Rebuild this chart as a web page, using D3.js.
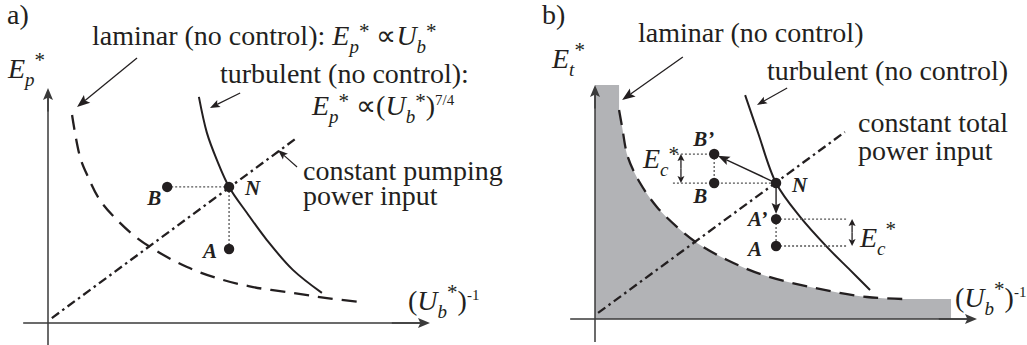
<!doctype html>
<html>
<head>
<meta charset="utf-8">
<title>pumping power schematic</title>
<style>
  body { margin: 0; background: #fff; }
  svg { display: block; }
  text { font-family: "Liberation Serif", "Times New Roman", serif; fill: #231f20; white-space: pre; }
</style>
</head>
<body>
<svg id="chart" width="1027" height="345"></svg>
<script src="https://d3js.org/d3.v7.min.js"></script>
<script>
// both panels use x = (Ub*)^-1 and y = energy, in arbitrary units 0..10

// panel a
var laminarA = [[0.63, 8.85], [0.84, 7.06], [1.05, 6.21], [1.36, 5.23], [1.81, 4.38], [2.33, 3.62],
                [2.93, 2.98], [3.64, 2.38], [4.42, 1.91], [5.37, 1.53], [6.41, 1.28], [7.30, 1.06], [8.22, 0.89]];
var turbulentA = [[3.95, 9.62], [4.16, 8.09], [4.42, 6.94], [4.74, 5.79], [5.21, 4.68],
                  [5.73, 3.53], [6.41, 2.26], [7.17, 1.28]];
var constPowerA = [[0.10, 0.21], [6.54, 7.91]];
var pointsA = [
  {name: "N", x: 4.74, y: 5.79},
  {name: "B", x: 3.12, y: 5.79},
  {name: "A", x: 4.74, y: 3.15}
];

// panel b
var laminarB = [[0.63, 8.93], [0.71, 8.21], [0.86, 6.92], [1.18, 5.81], [1.62, 4.79], [2.15, 3.93],
                [2.67, 3.25], [3.46, 2.52], [4.40, 1.88], [5.63, 1.37], [7.12, 0.94], [8.19, 0.85]];
var turbulentB = [[3.93, 9.57], [4.27, 7.95], [4.74, 5.81], [5.37, 4.36],
                  [6.07, 3.08], [6.68, 2.09], [7.20, 1.24]];
var constPowerB = [[0.08, 0.26], [6.54, 7.99]];
var pointsB = [
  {name: "N", x: 4.74, y: 5.81},
  {name: "B", x: 3.12, y: 5.81},
  {name: "B\u2019", x: 3.12, y: 7.05},
  {name: "A\u2019", x: 4.74, y: 4.27},
  {name: "A", x: 4.74, y: 3.12}
];
var shadeTop = 10, shadeRight = 9.32;

var ink = "#231f20";
var svg = d3.select("#chart");

var xA = d3.scaleLinear().domain([0, 10]).range([48, 430]);
var yA = d3.scaleLinear().domain([0, 10]).range([323, 88]);
var xB = d3.scaleLinear().domain([0, 10]).range([595, 977]);
var yB = d3.scaleLinear().domain([0, 10]).range([319, 85]);

function curve(x, y) {
  return d3.line().x(function(d) { return x(d[0]); }).y(function(d) { return y(d[1]); })
           .curve(d3.curveCatmullRom.alpha(0.5));
}

function straight(x, y) {
  return d3.line().x(function(d) { return x(d[0]); }).y(function(d) { return y(d[1]); });
}

// arrow with filled, slightly notched head
function arrow(g, x1, y1, x2, y2, o) {
  var dx = x2 - x1, dy = y2 - y1, L = Math.hypot(dx, dy), ux = dx / L, uy = dy / L;
  var tx = x2 - ux * (o.gap || 0), ty = y2 - uy * (o.gap || 0);
  var bx = tx - ux * o.len, by = ty - uy * o.len;
  var nx = bx + ux * o.len * 0.2, ny = by + uy * o.len * 0.2;
  g.append("line").attr("x1", x1).attr("y1", y1).attr("x2", nx).attr("y2", ny)
    .attr("stroke", o.color || ink).attr("stroke-width", o.w);
  g.append("path")
    .attr("d", "M" + tx + "," + ty + "L" + (bx - uy * o.half) + "," + (by + ux * o.half) +
               "L" + nx + "," + ny + "L" + (bx + uy * o.half) + "," + (by - ux * o.half) + "Z")
    .attr("fill", o.color || ink);
}

function doubleArrow(g, x, y1, y2) {
  var m = (y1 + y2) / 2;
  arrow(g, x, m, x, y1, {w: 1.3, len: 7, half: 3.5});
  arrow(g, x, m, x, y2, {w: 1.3, len: 7, half: 3.5});
}

var kinds = {
  r:    {size: 28, style: "normal", weight: "normal", shift: 0},
  i:    {size: 28, style: "italic", weight: "normal", shift: 0},
  sub:  {size: 19, style: "italic", weight: "normal", shift: 8},
  ast:  {size: 21, style: "normal", weight: "normal", shift: -7},
  astHi:{size: 21, style: "normal", weight: "normal", shift: -11},
  sup:  {size: 15, style: "normal", weight: "normal", shift: -10},
  bi:   {size: 21, style: "italic", weight: "bold", shift: 0}
};

function label(g, x, y, parts) {
  var t = g.append("text").attr("x", x).attr("y", y);
  var cur = 0;
  parts.forEach(function(p) {
    var k = kinds[p[1] || "r"];
    t.append("tspan")
      .attr("dy", k.shift - cur)
      .style("font-size", k.size + "px")
      .style("font-style", k.style)
      .style("font-weight", k.weight)
      .text(p[0]);
    cur = k.shift;
  });
  return t;
}

function axes(g, x, y, xLeft, yBottom) {
  g.append("line").attr("x1", x(xLeft)).attr("y1", y(0)).attr("x2", x(10) - 8).attr("y2", y(0))
    .attr("stroke", "#3a3a3a").attr("stroke-width", 1.5);
  arrow(g, x(9), y(0), x(10), y(0), {w: 1.5, len: 12, half: 5, color: "#3a3a3a"});
  g.append("line").attr("x1", x(0)).attr("y1", y(yBottom)).attr("x2", x(0)).attr("y2", y(10) + 8)
    .attr("stroke", "#3a3a3a").attr("stroke-width", 1.5);
  arrow(g, x(0), y(9), x(0), y(10), {w: 1.5, len: 12, half: 5, color: "#3a3a3a"});
}

function dotted(g, x1, y1, x2, y2) {
  g.append("line").attr("x1", x1).attr("y1", y1).attr("x2", x2).attr("y2", y2)
    .attr("stroke", "#555").attr("stroke-width", 1.3).attr("stroke-dasharray", "2,2");
}

// ---------------- panel a ----------------
var ga = svg.append("g");
axes(ga, xA, yA, -0.65, -0.95);

ga.append("path").attr("d", curve(xA, yA)(laminarA)).attr("fill", "none")
  .attr("stroke", ink).attr("stroke-width", 2.3).attr("stroke-dasharray", "15,9");
ga.append("path").attr("d", curve(xA, yA)(turbulentA)).attr("fill", "none")
  .attr("stroke", ink).attr("stroke-width", 2);
ga.append("path").attr("d", straight(xA, yA)(constPowerA))
  .attr("fill", "none").attr("stroke", ink).attr("stroke-width", 2.3).attr("stroke-dasharray", "9,4,2.5,4");

var nA = pointsA[0], bA = pointsA[1], aA = pointsA[2];
dotted(ga, xA(bA.x), yA(bA.y), xA(nA.x), yA(nA.y));
dotted(ga, xA(nA.x), yA(nA.y), xA(aA.x), yA(aA.y));

ga.selectAll("circle").data(pointsA).enter().append("circle")
  .attr("cx", function(d) { return xA(d.x); }).attr("cy", function(d) { return yA(d.y); })
  .attr("r", 5.2).attr("fill", ink);

var offA = {N: [16, 8], B: [-20, 18], A: [-26, 9]};
pointsA.forEach(function(d) {
  label(ga, xA(d.x) + offA[d.name][0], yA(d.y) + offA[d.name][1], [[d.name, "bi"]]);
});

arrow(ga, xA(2.33), yA(11.28), xA(0.76), yA(9.19), {w: 1.3, len: 13, half: 5});
arrow(ga, xA(5.03), yA(9.79), xA(4.24), yA(9.15), {w: 1.2, len: 10, half: 3.8});
arrow(ga, xA(6.52), yA(6.64), xA(6.02), yA(7.36), {w: 1.2, len: 10, half: 3.8});

label(ga, 7, 24, [["a)"]]);
label(ga, 92, 45, [["laminar (no control): "], ["E", "i"], ["p", "sub"], ["*", "ast"], [" \u221D", "r"],
                   ["U", "i"], ["b", "sub"], ["*", "ast"]]);
label(ga, 220, 83, [["turbulent (no control):"]]);
label(ga, 312, 115, [["E", "i"], ["p", "sub"], ["*", "ast"], [" \u221D(", "r"], ["U", "i"], ["b", "sub"],
                     ["*", "ast"], [")", "r"], ["7/4", "sup"]]);
label(ga, 303, 180, [["constant pumping"]]);
label(ga, 303, 205, [["power input"]]);
label(ga, 8, 78, [["E", "i"], ["p", "sub"], ["*", "astHi"]]);
label(ga, 408, 310, [["(", "r"], ["U", "i"], ["b", "sub"], ["*", "astHi"], [")", "r"], ["-1", "sup"]]);

// ---------------- panel b ----------------
var gb = svg.append("g");
var lamPath = curve(xB, yB)(laminarB);
var last = laminarB[laminarB.length - 1];
gb.append("path")
  .attr("d", "M" + xB(0) + "," + yB(shadeTop) + "L" + xB(laminarB[0][0]) + "," + yB(shadeTop) +
             "L" + lamPath.slice(1) + "L" + xB(shadeRight) + "," + yB(last[1]) +
             "L" + xB(shadeRight) + "," + yB(0) + "L" + xB(0) + "," + yB(0) + "Z")
  .attr("fill", "#b2b3b6");

axes(gb, xB, yB, -0.65, -0.98);

gb.append("path").attr("d", lamPath).attr("fill", "none")
  .attr("stroke", ink).attr("stroke-width", 2.3).attr("stroke-dasharray", "15,9");
gb.append("path").attr("d", curve(xB, yB)(turbulentB)).attr("fill", "none")
  .attr("stroke", ink).attr("stroke-width", 2);
gb.append("path").attr("d", straight(xB, yB)(constPowerB))
  .attr("fill", "none").attr("stroke", ink).attr("stroke-width", 2.3).attr("stroke-dasharray", "9,4,2.5,4");

var nB = pointsB[0], bB = pointsB[1], bpB = pointsB[2], apB = pointsB[3], aB = pointsB[4];
var leftEnd = 2.04, rightEnd = 6.62;
dotted(gb, xB(leftEnd), yB(bB.y), xB(nB.x), yB(nB.y));
dotted(gb, xB(leftEnd), yB(bpB.y), xB(bpB.x), yB(bpB.y));
dotted(gb, xB(bpB.x), yB(bpB.y), xB(bB.x), yB(bB.y));
dotted(gb, xB(apB.x), yB(apB.y), xB(rightEnd), yB(apB.y));
dotted(gb, xB(aB.x), yB(aB.y), xB(rightEnd), yB(aB.y));
dotted(gb, xB(apB.x), yB(apB.y), xB(aB.x), yB(aB.y));

doubleArrow(gb, xB(2.25), yB(bpB.y), yB(bB.y));
doubleArrow(gb, xB(6.73), yB(apB.y), yB(aB.y));

arrow(gb, xB(nB.x), yB(nB.y), xB(bpB.x), yB(bpB.y), {w: 1.4, len: 12, half: 4.5, gap: 4});
arrow(gb, xB(nB.x), yB(nB.y), xB(apB.x), yB(apB.y), {w: 1.4, len: 11, half: 4.5, gap: 5});

gb.selectAll("circle").data(pointsB).enter().append("circle")
  .attr("cx", function(d) { return xB(d.x); }).attr("cy", function(d) { return yB(d.y); })
  .attr("r", 5.2).attr("fill", ink);

var offB = {"N": [16, 9], "B": [-21, 20], "B\u2019": [-21, -8], "A\u2019": [-28, 7], "A": [-28, 10]};
pointsB.forEach(function(d) {
  label(gb, xB(d.x) + offB[d.name][0], yB(d.y) + offB[d.name][1], [[d.name, "bi"]]);
});

arrow(gb, xB(2.30), yB(11.2), xB(0.71), yB(9.36), {w: 1.3, len: 13, half: 5});
arrow(gb, xB(5.03), yB(9.87), xB(4.24), yB(9.15), {w: 1.2, len: 10, half: 3.8});

label(gb, 542, 24, [["b)"]]);
label(gb, 552, 68, [["E", "i"], ["t", "sub"], ["*", "astHi"]]);
label(gb, 638, 42, [["laminar (no control)"]]);
label(gb, 767, 80, [["turbulent (no control)"]]);
label(gb, 858, 132, [["constant total"]]);
label(gb, 858, 160, [["power input"]]);
label(gb, 955, 307, [["(", "r"], ["U", "i"], ["b", "sub"], ["*", "astHi"], [")", "r"], ["-1", "sup"]]);
label(gb, 643, 168, [["E", "i"], ["c", "sub"], ["*", "ast"]]);
label(gb, 860, 247, [["E", "i"], ["c", "sub"], ["*", "astHi"]]);
</script>
</body>
</html>
